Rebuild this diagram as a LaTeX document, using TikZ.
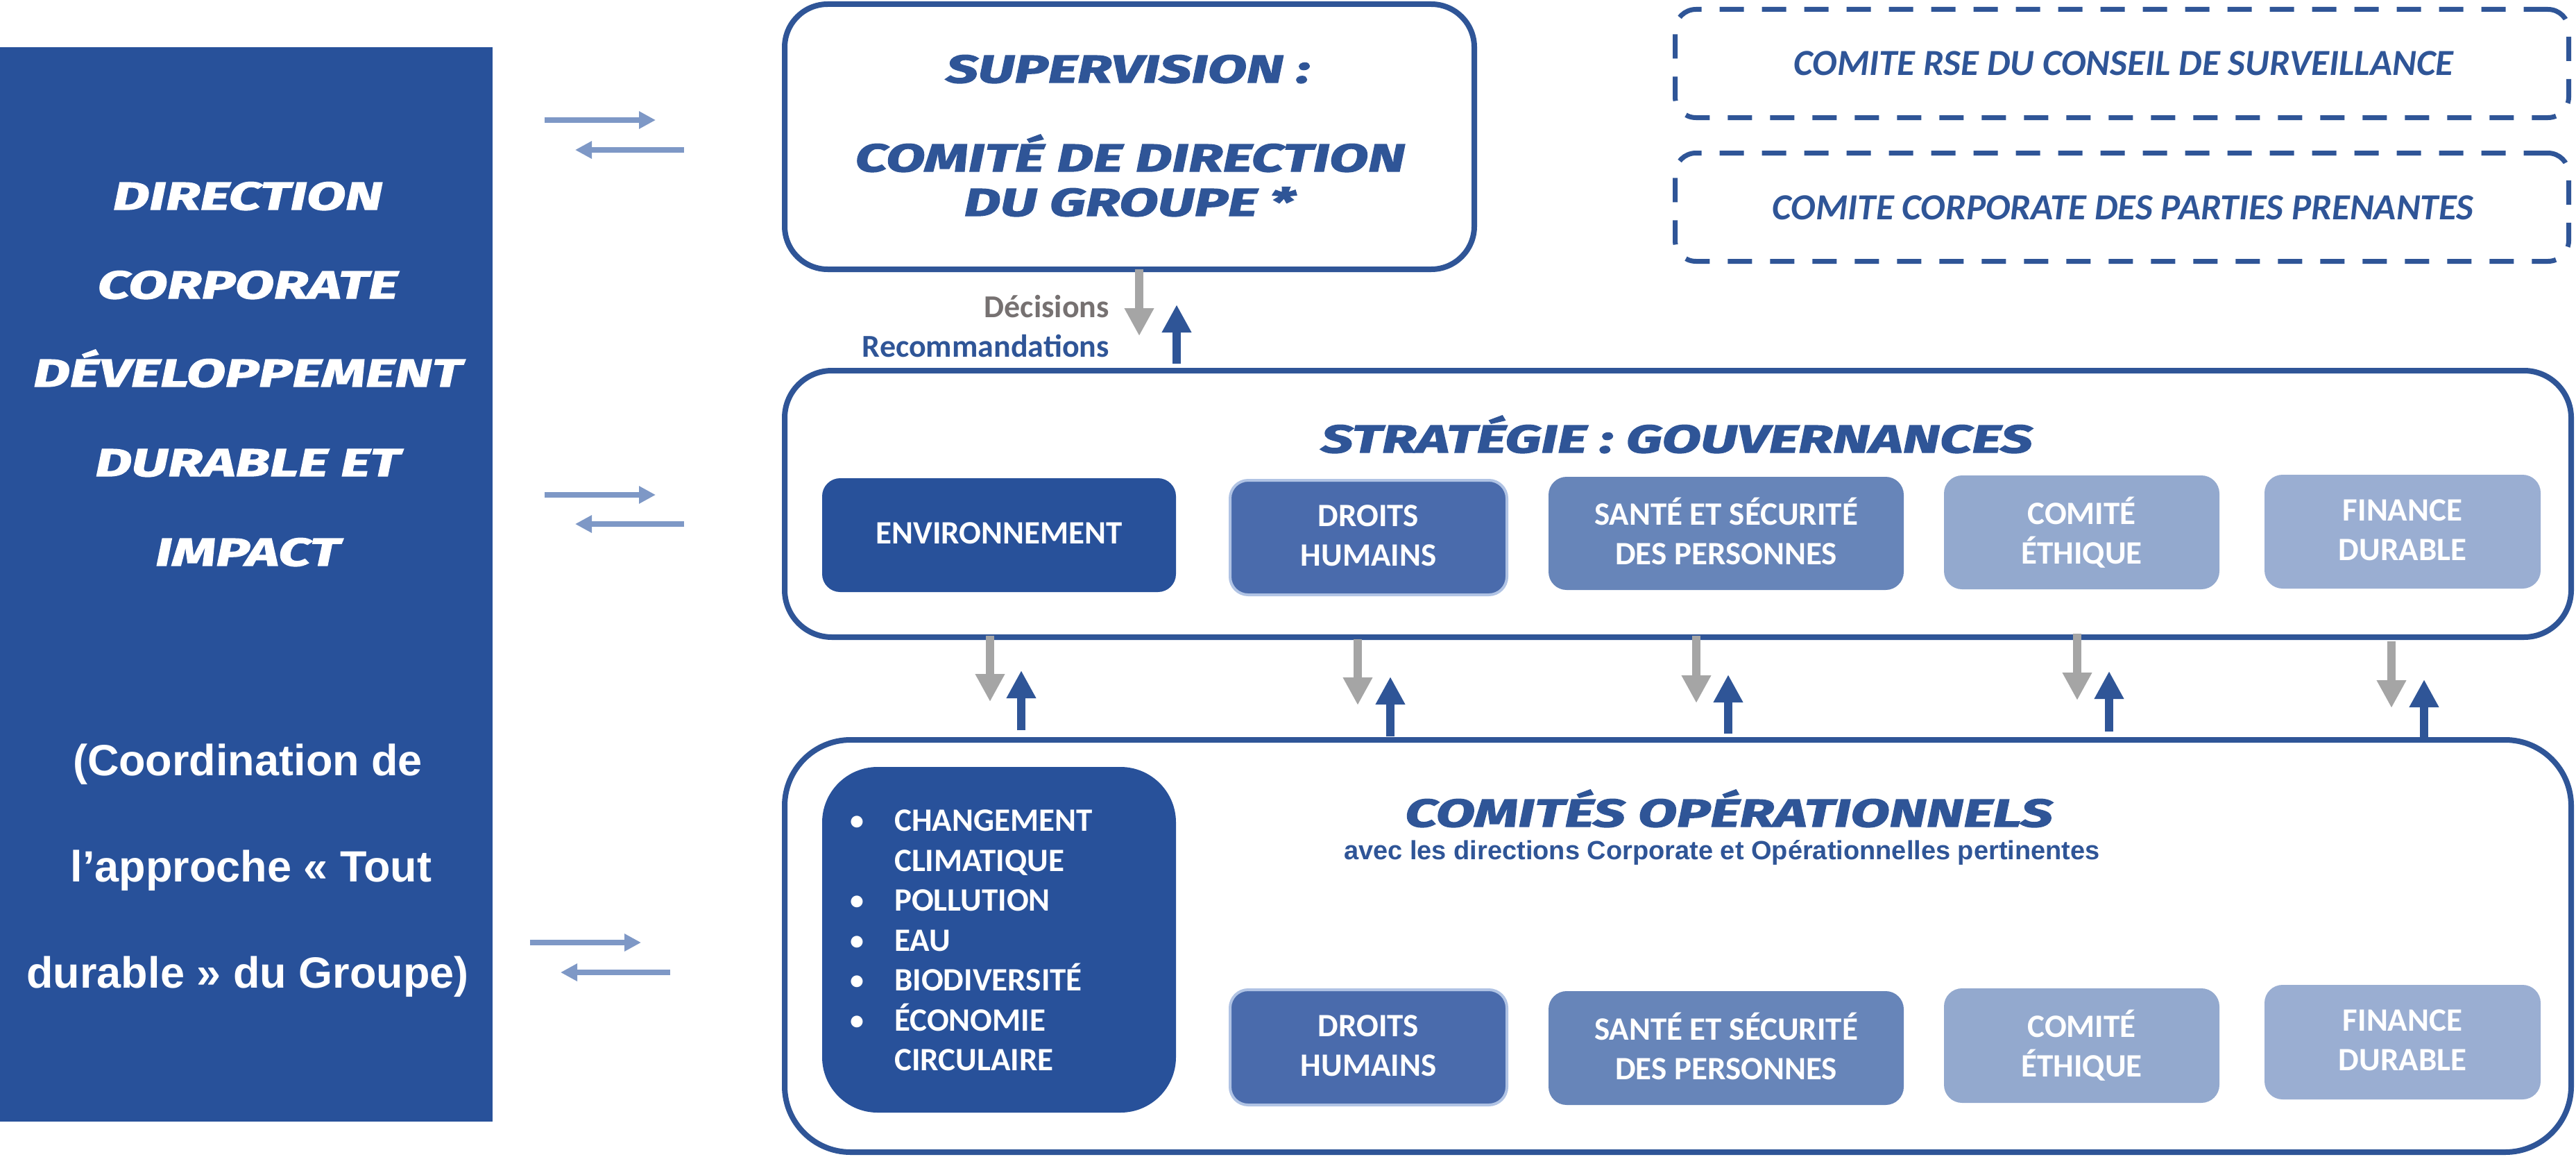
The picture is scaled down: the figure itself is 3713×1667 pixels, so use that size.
\documentclass[tikz,border=0pt]{standalone}
\usepackage{fontspec}
\setmainfont{Carlito}
\newfontfamily\hvfam{Fira Sans}[BoldItalicFeatures={FakeBold=2.5,FakeStretch=1.46}]
\newfontfamily\arialf{Liberation Sans}
\usetikzlibrary{arrows.meta}
\definecolor{bmain}{HTML}{28519A}
\definecolor{bline}{HTML}{2F5597}
\definecolor{cdroits}{HTML}{4A6BAC}
\definecolor{csante}{HTML}{6785B9}
\definecolor{cethique}{HTML}{93A9CE}
\definecolor{cfinance}{HTML}{9AAED2}
\definecolor{garrow}{HTML}{A5A5A5}
\definecolor{larrow}{HTML}{7E98C6}
\definecolor{gtext}{HTML}{767171}
\definecolor{glow}{HTML}{B0C3E4}
\newcommand\mystrut{\rule[-0.13em]{0pt}{0.80em}}
\tikzset{
  bigbox/.style={draw=bline, line width=8pt, fill=white, inner sep=0pt},
  dashbox/.style={draw=bline, line width=7pt, dash pattern=on 35pt off 26pt, rounded corners=30pt, inner sep=0pt},
  tile/.style={inner sep=0pt, rounded corners=26pt, text=white, align=center,
    font={\bfseries\fontsize{47}{57}\selectfont}},
  hv/.style={font={\hvfam\bfseries\itshape\fontsize{56}{60}\selectfont}, text=bline, inner sep=0pt, anchor=base},
  hvw/.style={hv, text=white},
  cal/.style={font={\bfseries\fontsize{46}{50}\selectfont}, inner sep=0pt, anchor=base east},
  dashtxt/.style={font={\bfseries\itshape\fontsize{53}{60}\selectfont}, text=bline, inner sep=0pt, anchor=base},
  listtxt/.style={font={\bfseries\fontsize{47}{57}\selectfont}, text=white, inner sep=0pt, anchor=base west},
  bul/.style={font={\bfseries\fontsize{40}{57}\selectfont}, text=white, inner sep=0pt, anchor=base},
  ar/.style={font={\arialf\bfseries\fontsize{63}{70}\selectfont}, text=white, inner sep=0pt, anchor=base},
  garr/.style={draw=garrow, line width=12pt, -{Triangle[width=40pt,length=40pt]}},
  barr/.style={draw=bline, line width=12pt, -{Triangle[width=40pt,length=40pt]}},
  larr/.style={draw=larrow, line width=8pt, -{Triangle[width=24pt,length=24pt]}},
}
\begin{document}
\begin{tikzpicture}[x=1pt,y=-1pt]
\useasboundingbox (0,0) rectangle (3713,1667);
\fill[white] (0,0) rectangle (3713,1667);

% left column
\node[fill=bmain, inner sep=0pt, minimum width=710pt, minimum height=1548pt] (dir) at (355,842) {};
\node[hvw] (d1) at (357,302) {DIRECTION};
\node[hvw] (d2) at (357,430) {CORPORATE};
\node[hvw] (d3) at (357,557) {DÉVELOPPEMENT};
\node[hvw] (d4) at (357,686) {DURABLE ET};
\node[hvw] (d5) at (357,815) {IMPACT};
\node[ar] (c1) at (357,1117) {(Coordination de};
\node[ar] (c2) at (362,1270) {l’approche «~Tout};
\node[ar] (c3) at (357,1423) {durable~» du Groupe)};

% supervision
\node[bigbox, rounded corners=62pt, minimum width=994pt, minimum height=382pt] (sup) at (1628,197) {};
\node[hv] (s1) at (1626,119) {SUPERVISION :};
\node[hv] (s2) at (1629,247) {COMITÉ DE DIRECTION};
\node[hv] (s3) at (1628,311) {DU GROUPE *};

% dashed committees
\node[dashbox, minimum width=1288pt, minimum height=156pt] (rse) at (3058.5,91.5) {};
\node[dashtxt] (rset) at (3061,109) {COMITE RSE DU CONSEIL DE SURVEILLANCE};
\node[dashbox, minimum width=1288pt, minimum height=156pt] (pp) at (3058.5,298.5) {};
\node[dashtxt] (ppt) at (3060,316) {COMITE CORPORATE DES PARTIES PRENANTES};

% strategie
\node[bigbox, rounded corners=68pt, minimum width=2575pt, minimum height=384pt] (strat) at (2418.5,726) {};
\node[hv] (stt) at (2417,652) {STRATÉGIE : GOUVERNANCES};
\node[tile, fill=bmain, minimum width=510pt, minimum height=164pt] (env) at (1440,771) {\mystrut ENVIRONNEMENT};
\node[tile, fill=cdroits, draw=glow, line width=4pt, minimum width=399pt, minimum height=165pt] (dh1) at (1972.5,774.5) {\mystrut DROITS\\\mystrut HUMAINS};
\node[tile, fill=csante, minimum width=512pt, minimum height=163pt] (ss1) at (2488,768.5) {\mystrut SANTÉ ET SÉCURITÉ\\\mystrut DES PERSONNES};
\node[tile, fill=cethique, minimum width=397pt, minimum height=164pt] (ce1) at (3000.5,767) {\mystrut COMITÉ\\\mystrut ÉTHIQUE};
\node[tile, fill=cfinance, minimum width=398pt, minimum height=164pt] (fd1) at (3463,766) {\mystrut FINANCE\\\mystrut DURABLE};

% comites operationnels
\node[bigbox, rounded corners=95pt, minimum width=2575pt, minimum height=594pt] (ops) at (2418.5,1363) {};
\node[hv] (opt) at (2492,1191) {COMITÉS OPÉRATIONNELS};
\node[font={\arialf\bfseries\fontsize{38}{40}\selectfont}, text=bline, inner sep=0pt, anchor=base] (ops2) at (2482,1238) {avec les directions Corporate et Opérationnelles pertinentes};
\node[tile, fill=bmain, rounded corners=80pt, minimum width=510pt, minimum height=498pt] (lst) at (1440,1354) {};
\foreach \t/\y/\n in {CHANGEMENT/1197/l1, CLIMATIQUE/1255/l2, POLLUTION/1312/l3, EAU/1370/l4, BIODIVERSITÉ/1427/l5, ÉCONOMIE/1485/l6, CIRCULAIRE/1542/l7}
  \node[listtxt] (\n) at (1289,\y) {\t};
\foreach \y/\n in {1195/b1, 1310/b3, 1368/b4, 1425/b5, 1483/b6}
  \node[bul] (\n) at (1235,\y) {•};
\node[tile, fill=cdroits, draw=glow, line width=4pt, minimum width=399pt, minimum height=166pt] (dh2) at (1972.5,1509) {\mystrut DROITS\\\mystrut HUMAINS};
\node[tile, fill=csante, minimum width=512pt, minimum height=164pt] (ss2) at (2488,1510) {\mystrut SANTÉ ET SÉCURITÉ\\\mystrut DES PERSONNES};
\node[tile, fill=cethique, minimum width=397pt, minimum height=165pt] (ce2) at (3000.5,1506.5) {\mystrut COMITÉ\\\mystrut ÉTHIQUE};
\node[tile, fill=cfinance, minimum width=398pt, minimum height=165pt] (fd2) at (3463,1501.5) {\mystrut FINANCE\\\mystrut DURABLE};

% labels between supervision and strategie
\node[cal, text=gtext] (dec) at (1599,457) {Décisions};
\node[cal, text=bline] (rec) at (1599,514) {Recommandations};

% vertical arrows
\coordinate (g0a) at (1642,388); \coordinate (g0b) at (1642,484);
\coordinate (u0a) at (1696,524); \coordinate (u0b) at (1696,439);
\draw[garr] (g0a) -- (g0b);
\draw[barr] (u0a) -- (u0b);
\foreach \gx/\ga/\gb/\bx/\ba/\bb/\i in {1427/916/1011/1472/1052/966/1, 1957/921/1016/2004/1061/975/2, 2445/916/1013/2491/1057/972/3, 2994/913/1009/3040/1054/967/4, 3447/924/1020/3494/1063/979/5}{
  \coordinate (ga\i) at (\gx,\ga); \coordinate (gb\i) at (\gx,\gb);
  \coordinate (ua\i) at (\bx,\ba); \coordinate (ub\i) at (\bx,\bb);
  \draw[garr] (ga\i) -- (gb\i);
  \draw[barr] (ua\i) -- (ub\i);
}

% horizontal light arrows
\foreach \ra/\rb/\ry/\la/\lb/\ly/\i in {785/945/173/986/829/216/1, 785/945/713/986/829/755/2, 764/924/1358/966/808/1401/3}{
  \coordinate (ra\i) at (\ra,\ry); \coordinate (rb\i) at (\rb,\ry);
  \coordinate (la\i) at (\la,\ly); \coordinate (lb\i) at (\lb,\ly);
  \draw[larr] (ra\i) -- (rb\i);
  \draw[larr] (la\i) -- (lb\i);
}
\end{tikzpicture}
\end{document}
